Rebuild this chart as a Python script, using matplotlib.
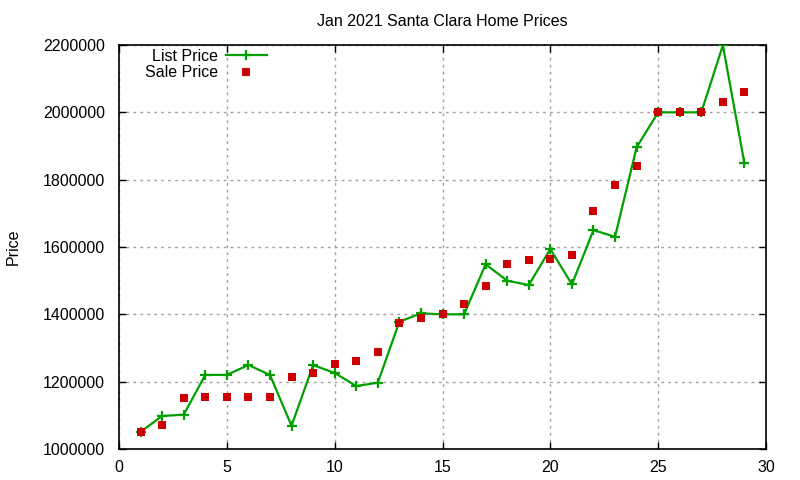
import matplotlib
matplotlib.use("Agg")
import matplotlib.pyplot as plt

plt.rcParams['font.family'] = ['Liberation Sans', 'DejaVu Sans']

# listing index
houses = list(range(1, 30))
# list price per listing
list_price = [1051000, 1098000, 1102000, 1220000, 1220000, 1249500, 1220000, 1069000,
              1249000, 1226000, 1187000, 1197000, 1378000, 1403000, 1400000, 1400000,
              1548500, 1500000, 1487000, 1594000, 1489000, 1650000, 1630500, 1896000,
              2000000, 2000000, 2000000, 2199000, 1848500]
# sale price per listing
sale_price = [1050000, 1072000, 1152000, 1155000, 1155000, 1155000, 1155000, 1215000,
              1227000, 1253000, 1262000, 1289000, 1375000, 1390000, 1402000, 1431500,
              1485000, 1550000, 1562000, 1565000, 1577000, 1708000, 1785000, 1841500,
              2000000, 2000000, 2000000, 2031500, 2061000]
x_ticks = [0, 5, 10, 15, 20, 25, 30]
y_ticks = [1000000, 1200000, 1400000, 1600000, 1800000, 2000000, 2200000]

fig = plt.figure(figsize=(8, 4.8), dpi=100)
ax = fig.add_axes([119 / 800, 1 - 449 / 480, (766 - 119) / 800, (449 - 45) / 480])

ax.plot(houses, list_price, color='#00a000', lw=1.6, marker='+', markersize=7,
        markeredgewidth=1.6, label='List Price', zorder=3)
ax.plot(houses, sale_price, ls='none', marker='s', markersize=6.2, color='#cc0000',
        markeredgewidth=0, label='Sale Price', zorder=4)

ax.set_xlim(0, 30)
ax.set_ylim(1000000, 2200000)
ax.set_xticks(x_ticks)
ax.set_yticks(y_ticks)
ax.set_yticklabels([str(v) for v in y_ticks])
ax.tick_params(direction='in', length=5, width=1, top=True, right=True,
               labelsize=11.5, pad=8, colors='black')
ax.tick_params(axis='y', pad=10)
ax.grid(True, color='#a0a0a0', ls=(0, (2, 3)), lw=1)
ax.set_axisbelow(True)
for s in ax.spines.values():
    s.set_linewidth(1.2)

ax.set_title('Jan 2021 Santa Clara Home Prices', fontsize=11.5, pad=14)
ax.set_ylabel('Price', fontsize=11.5, labelpad=16)

ax.legend(loc='upper right', bbox_to_anchor=(0.229, 0.99), frameon=False,
          markerfirst=False, fontsize=11.5, handlelength=2.6, handletextpad=0.5,
          labelspacing=0.08, borderaxespad=0, borderpad=0, numpoints=1)

fig.savefig('out.png', dpi=100)
